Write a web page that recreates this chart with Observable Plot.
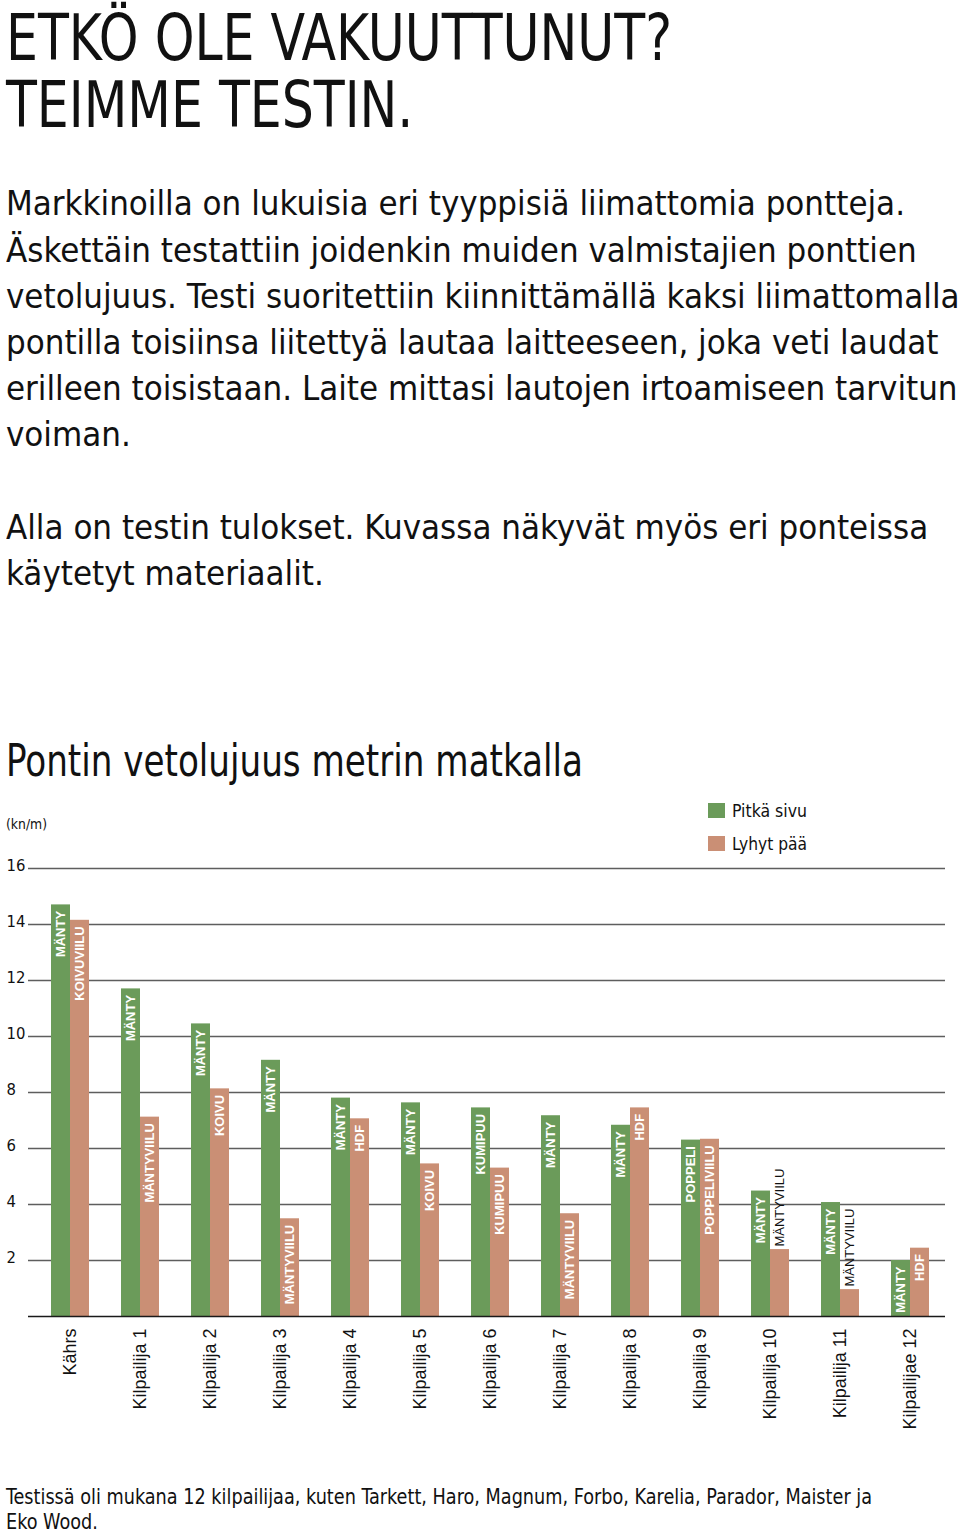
<!DOCTYPE html>
<html>
<head>
<meta charset="utf-8">
<script src="https://cdn.jsdelivr.net/npm/d3@7"></script>
<script src="https://cdn.jsdelivr.net/npm/@observablehq/plot@0.6"></script>
<style>
html, body { margin: 0; padding: 0; background: #fff; }
#page { position: relative; width: 960px; height: 1533px; overflow: hidden; background: #fff; }
.line { position: absolute; white-space: pre; color: #111; transform-origin: 0 0; }
.swatch { position: absolute; width: 17px; height: 15px; }
#chart { position: absolute; left: 0; top: 790px; }
g[aria-label="bar-label"] text { letter-spacing: 0.6px; }
</style>
</head>
<body>
<div id="page"></div>
<script>
// ---------- data ----------
const competitors = ["Kährs", "Kilpailija 1", "Kilpailija 2", "Kilpailija 3", "Kilpailija 4", "Kilpailija 5", "Kilpailija 6", "Kilpailija 7", "Kilpailija 8", "Kilpailija 9", "Kilpailija 10", "Kilpailija 11", "Kilpailijae 12"];
const pitkaSivu = [14.7, 11.7, 10.45, 9.15, 7.8, 7.63, 7.45, 7.17, 6.83, 6.3, 4.48, 4.07, 2.0];
const lyhytPaa = [14.15, 7.12, 8.13, 3.49, 7.06, 5.45, 5.3, 3.67, 7.45, 6.33, 2.39, 0.96, 2.44];
const pitkaMateriaali = ["MÄNTY", "MÄNTY", "MÄNTY", "MÄNTY", "MÄNTY", "MÄNTY", "KUMIPUU", "MÄNTY", "MÄNTY", "POPPELI", "MÄNTY", "MÄNTY", "MÄNTY"];
const lyhytMateriaali = ["KOIVUVIILU", "MÄNTYVIILU", "KOIVU", "MÄNTYVIILU", "HDF", "KOIVU", "KUMIPUU", "MÄNTYVIILU", "HDF", "POPPELIVIILU", "MÄNTYVIILU", "MÄNTYVIILU", "HDF"];
const yTicks = [2, 4, 6, 8, 10, 12, 14, 16];
const seriesNames = ["Pitkä sivu", "Lyhyt pää"];

const titleLines = ["ETKÖ OLE VAKUUTTUNUT?", "TEIMME TESTIN."];
const introLines = [
  "Markkinoilla on lukuisia eri tyyppisiä liimattomia pontteja.",
  "Äskettäin testattiin joidenkin muiden valmistajien ponttien",
  "vetolujuus. Testi suoritettiin kiinnittämällä kaksi liimattomalla",
  "pontilla toisiinsa liitettyä lautaa laitteeseen, joka veti laudat",
  "erilleen toisistaan. Laite mittasi lautojen irtoamiseen tarvitun",
  "voiman.",
  "",
  "Alla on testin tulokset. Kuvassa näkyvät myös eri ponteissa",
  "käytetyt materiaalit."
];
const chartTitle = "Pontin vetolujuus metrin matkalla";
const unitLabel = "(kn/m)";
const footerLines = [
  "Testissä oli mukana 12 kilpailijaa, kuten Tarkett, Haro, Magnum, Forbo, Karelia, Parador, Maister ja",
  "Eko Wood."
];

// ---------- styles ----------
const GREEN = "#6b9b5a";
const SALMON = "#ca8f75";

// ---------- font detection ----------
const ctx = document.createElement("canvas").getContext("2d");
function fontAvailable(name) {
  const s = "abcdefghijklmnopqrstuvwxyzÄÖ 0123456789";
  ctx.font = "40px monospace";
  const a = ctx.measureText(s).width;
  ctx.font = `40px "${name}", monospace`;
  return ctx.measureText(s).width !== a;
}
const FONT = ["Liberation Sans Narrow", "DejaVu Sans Condensed", "Roboto Condensed", "Arial Narrow"].find(fontAvailable) || "Roboto";
const SANS = fontAvailable("Liberation Sans") ? "Liberation Sans" : "Arial, sans-serif";

const page = document.getElementById("page");

function metrics(text, size, weight) {
  ctx.font = `${weight} ${size}px "${FONT}"`;
  return ctx.measureText(text);
}
// one text block: first baseline, line gap, cap height, width of the reference line
function placeBlock(lines, {baseline, gap, cap, refWidth, refIndex = 0, left = 6, weight = 400, color = "#111"}) {
  const hm = metrics("H", 100, weight);
  const size = cap / (hm.actualBoundingBoxAscent / 100);
  const ref = metrics(lines[refIndex], size, weight);
  const sx = refWidth / ref.width;
  const L = gap || Math.round(size * 1.2);
  const A = ref.fontBoundingBoxAscent, D = ref.fontBoundingBoxDescent;
  const top = baseline - ((L - (A + D)) / 2 + A);
  const el = document.createElement("div");
  el.className = "line";
  el.textContent = lines.join("\n");
  el.style.left = left + "px";
  el.style.top = top + "px";
  el.style.lineHeight = L + "px";
  el.style.fontFamily = `"${FONT}"`;
  el.style.fontSize = size + "px";
  el.style.fontWeight = weight;
  el.style.color = color;
  el.style.transform = `scaleX(${sx})`;
  page.appendChild(el);
}

placeBlock(titleLines, {baseline: 60, gap: 67, cap: 47, refWidth: 666});
placeBlock(introLines, {baseline: 216, gap: 46.2, cap: 24, refWidth: 899});
placeBlock([chartTitle], {baseline: 776, gap: 0, cap: 32, refWidth: 577});
placeBlock([unitLabel], {baseline: 829, gap: 0, cap: 10, refWidth: 41});
placeBlock(footerLines, {baseline: 1504, gap: 25, cap: 16, refWidth: 866});

// legend
const legendColors = [GREEN, SALMON];
seriesNames.forEach((name, i) => {
  const sw = document.createElement("div");
  sw.className = "swatch";
  sw.style.left = "708px";
  sw.style.top = (803 + i * 33) + "px";
  sw.style.background = legendColors[i];
  page.appendChild(sw);
  placeBlock([name], {baseline: 817 + i * 33, gap: 0, cap: 13, refWidth: 75, left: 732});
});

// ---------- chart ----------
const data = competitors.map((name, i) => ({
  name, pitka: pitkaSivu[i], lyhyt: lyhytPaa[i], mp: pitkaMateriaali[i], ml: lyhytMateriaali[i]
}));
const fitsInside = (v, label) => v * 28 >= label.length * 8.5 + 10;

const chart = Plot.plot({
  width: 960,
  height: 656,
  marginTop: 78,
  marginBottom: 130,
  marginLeft: 35,
  marginRight: 15,
  x: {domain: competitors, padding: 0, axis: null},
  y: {domain: [0, 16], axis: null},
  style: {background: "transparent", fontFamily: SANS},
  marks: [
    Plot.ruleY(yTicks, {stroke: "#5e5e5e", strokeWidth: 1.4, insetLeft: -7}),
    Plot.barY(data, {x: "name", y: "pitka", fill: GREEN, insetLeft: 16, insetRight: 35}),
    Plot.barY(data, {x: "name", y: "lyhyt", fill: SALMON, insetLeft: 35, insetRight: 16}),
    Plot.ruleY([0], {stroke: "#1a1a1a", strokeWidth: 1.6, insetLeft: -7}),
    Plot.text(yTicks, {y: d => d, text: d => String(d), frameAnchor: "left", textAnchor: "start", dx: -29, dy: -3, fontSize: 16.5, fontFamily: FONT, fill: "#111"}),
    Plot.text(data, {filter: d => fitsInside(d.pitka, d.mp), x: "name", y: "pitka", text: "mp", rotate: -90, textAnchor: "end", lineAnchor: "middle", dx: -9.5, dy: 6, fill: "white", fontWeight: "bold", fontSize: 13, fontFamily: SANS, ariaLabel: "bar-label"}),
    Plot.text(data, {filter: d => fitsInside(d.lyhyt, d.ml), x: "name", y: "lyhyt", text: "ml", rotate: -90, textAnchor: "end", lineAnchor: "middle", dx: 9.5, dy: 6, fill: "white", fontWeight: "bold", fontSize: 13, fontFamily: SANS, ariaLabel: "bar-label"}),
    Plot.text(data, {filter: d => !fitsInside(d.lyhyt, d.ml), x: "name", y: "lyhyt", text: "ml", rotate: -90, textAnchor: "start", lineAnchor: "middle", dx: 9.5, dy: -3, fill: "#111", fontSize: 13, fontFamily: SANS}),
    Plot.text(competitors, {x: d => d, text: d => d, frameAnchor: "bottom", rotate: -90, textAnchor: "end", lineAnchor: "middle", dy: 12, fontSize: 18, fontFamily: SANS, fill: "#111"})
  ]
});
chart.id = "chart";
page.appendChild(chart);
</script>
</body>
</html>
